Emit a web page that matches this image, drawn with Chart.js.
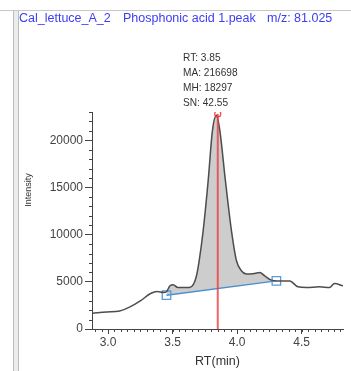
<!DOCTYPE html>
<html>
<head>
<meta charset="utf-8">
<script src="https://cdn.jsdelivr.net/npm/chart.js@4.4.1/dist/chart.umd.min.js"></script>
<style>
  html, body { margin: 0; padding: 0; background: #fff; }
  #wrap { position: relative; width: 351px; height: 371px; overflow: hidden; font-family: "Liberation Sans", Arial, sans-serif; }
  #chart { position: absolute; left: 0; top: 0; }
  .frameTop { position: absolute; left: 0; top: 10px; width: 351px; height: 1px; background: #c8c8c8; }
  .frameLeft { position: absolute; left: 13px; top: 11px; width: 4px; height: 360px; border-left: 1px solid #bdbdbd; border-right: 1px solid #bdbdbd; background: #ececec; }
  .title { position: absolute; top: 11px; line-height: 15px; font-size: 12.5px; color: #3c3cf5; white-space: pre; }
  #peakInfo { position: absolute; left: 183px; top: 50px; font-size: 11.5px; line-height: 15px; color: #333; transform: scaleX(0.88); transform-origin: left top; }
  #yTitle { position: absolute; left: 28px; top: 190px; font-size: 9px; color: #333; transform: translate(-50%, -50%) rotate(-90deg); white-space: nowrap; }
</style>
</head>
<body>
<div id="wrap">
  <canvas id="chart" width="351" height="371"></canvas>
  <div class="frameTop"></div>
  <div class="frameLeft"></div>
  <span class="title" style="left:19px">Cal_lettuce_A_2</span>
  <span class="title" style="left:123px">Phosphonic acid 1.peak</span>
  <span class="title" style="left:267px">m/z: 81.025</span>
  <div id="peakInfo"></div>
  <div id="yTitle">Intensity</div>
</div>
<script>
// chromatogram trace (RT in min, intensity)
const rt = [2.88, 2.99, 3.09, 3.17, 3.25, 3.33, 3.38, 3.43, 3.453, 3.48, 3.505, 3.54, 3.63, 3.665, 3.685, 3.706,
            3.737, 3.776, 3.809, 3.84, 3.866, 3.909, 3.956, 3.995, 4.033, 4.072, 4.136, 4.175, 4.213, 4.265, 4.304,
            4.407, 4.471, 4.536, 4.638, 4.716, 4.754, 4.82];
const intensity = [1670, 1810, 1910, 2340, 2980, 3760, 3970, 3860, 3950, 4580, 4680, 4400, 4400, 4820, 5640, 7230,
                   10430, 15750, 21050, 22650, 21050, 15750, 10430, 7230, 6170, 5820, 5890, 5990, 5640, 5180, 5100,
                   5100, 4470, 4400, 4470, 4400, 4820, 4570];

// integration baseline (start / end)
const baseRt = [3.453, 4.304];
const baseIntensity = [3580, 5100];

// apex marker
const apexRt = 3.85;
const apexTop = 22800;

const xTicks = [3.0, 3.5, 4.0, 4.5];
const yTicks = [0, 5000, 10000, 15000, 20000];

const peakInfo = ['RT: 3.85', 'MA: 216698', 'MH: 18297', 'SN: 42.55'];

document.getElementById('peakInfo').innerHTML = peakInfo.join('<br>');

const trace = rt.map((x, i) => ({ x: x, y: intensity[i] }));
const peakArea = trace.filter(p => p.x >= baseRt[0] && p.x <= baseRt[1]);
const baseline = baseRt.map((x, i) => ({ x: x, y: baseIntensity[i] }));

const tickFont = { family: 'Liberation Sans', size: 12 };

// small minor ticks on both axes
const minorTicks = {
    id: 'minorTicks',
    afterDraw(chart) {
        const ctx = chart.ctx;
        const xs = chart.scales.x, ys = chart.scales.y;
        const area = chart.chartArea;
        ctx.save();
        ctx.strokeStyle = '#444';
        ctx.lineWidth = 1;
        ctx.beginPath();
        for (let v = 2.9; v <= xs.max; v += 0.05) {
            const px = Math.round(xs.getPixelForValue(v)) + 0.5;
            ctx.moveTo(px, area.bottom);
            ctx.lineTo(px, area.bottom + 3);
        }
        for (let v = 1000; v <= ys.max; v += 1000) {
            if (v % 5000 === 0) continue;
            const py = Math.round(ys.getPixelForValue(v)) + 0.5;
            ctx.moveTo(area.left - 3, py);
            ctx.lineTo(area.left, py);
        }
        ctx.stroke();
        ctx.restore();
    }
};

new Chart(document.getElementById('chart'), {
    type: 'line',
    data: {
        datasets: [
            {
                data: [{ x: apexRt, y: 0 }, { x: apexRt, y: apexTop }],
                borderColor: 'rgba(240, 60, 60, 0.8)',
                borderWidth: 2,
                pointRadius: [0, 3],
                pointBorderColor: 'rgba(240, 50, 50, 0.9)',
                pointBackgroundColor: 'rgba(255, 255, 255, 0)',
                pointBorderWidth: 1.2,
                fill: false
            },
            {
                data: trace,
                borderColor: '#4d4d4d',
                borderWidth: 1.5,
                pointRadius: 0,
                cubicInterpolationMode: 'monotone',
                fill: false
            },
            {
                data: baseline,
                borderColor: '#4a90d0',
                borderWidth: 1.4,
                pointStyle: 'rect',
                pointRadius: 6,
                pointBorderColor: '#5b9bd5',
                pointBackgroundColor: 'rgba(255, 255, 255, 0)',
                pointBorderWidth: 1.3,
                fill: false
            },
            {
                data: peakArea,
                borderWidth: 0,
                borderColor: 'rgba(0,0,0,0)',
                backgroundColor: 'rgba(200, 200, 200, 0.9)',
                pointRadius: 0,
                cubicInterpolationMode: 'monotone',
                fill: { target: 2 }
            }
        ]
    },
    options: {
        responsive: false,
        animation: false,
        events: [],
        layout: { padding: { top: 112, right: 8, left: 0, bottom: 0 } },
        plugins: {
            legend: { display: false },
            tooltip: { enabled: false }
        },
        scales: {
            x: {
                type: 'linear',
                min: 2.876,
                max: 4.82,
                afterFit: function(scale) { scale.height = 42; },
                afterBuildTicks: function(scale) { scale.ticks = xTicks.map(v => ({ value: v })); },
                grid: { drawOnChartArea: false, tickLength: 5, color: '#444' },
                border: { color: '#444', width: 1 },
                ticks: {
                    font: tickFont,
                    color: '#444',
                    padding: 1,
                    maxRotation: 0,
                    callback: function(v) { return Number(v).toFixed(1); }
                },
                title: {
                    display: true,
                    text: 'RT(min)',
                    font: { family: 'Liberation Sans', size: 12.5 },
                    color: '#333',
                    padding: { top: 0, bottom: 2 }
                }
            },
            y: {
                type: 'linear',
                min: 0,
                max: 23000,
                afterFit: function(scale) { scale.width = 92; },
                afterBuildTicks: function(scale) { scale.ticks = yTicks.map(v => ({ value: v })); },
                grid: { drawOnChartArea: false, tickLength: 7, color: '#444' },
                border: { color: '#444', width: 1 },
                ticks: {
                    font: tickFont,
                    color: '#444',
                    padding: 2,
                    callback: function(v) { return String(v); }
                }
            }
        }
    },
    plugins: [minorTicks]
});
</script>
</body>
</html>
